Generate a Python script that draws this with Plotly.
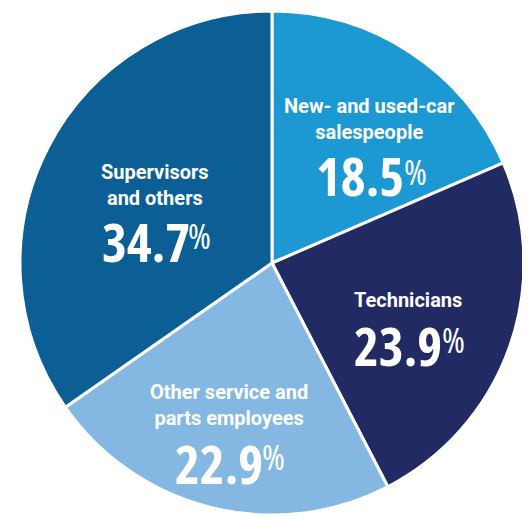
import plotly.graph_objects as go

categories = ["New- and used-car salespeople", "Technicians",
              "Other service and parts employees", "Supervisors and others"]
label_lines = ["New- and used-car<br>salespeople", "Technicians",
               "Other service and<br>parts employees", "Supervisors<br>and others"]
values = [18.5, 23.9, 22.9, 34.7]
colors = ["#1c98d3", "#222a63", "#84b8e2", "#0b5f94"]

# browser body margin offsets the plot by 8px
OFF = 8
W, H = 530 - OFF, 518 - OFF
CX, CY, R = 272 - OFF, 263 - OFF, 252

# text placement in window pixels
label_px = [(369, 119), (408, 300), (229, 405), (155, 185)]
number_px = [(406, 176), (444, 345), (265, 463), (192, 242)]   # right edge, centre
pct_px = [(402, 171), (440, 339), (260, 456), (186, 235)]      # left edge, centre

LABEL_FONT = "Roboto, sans-serif"
NUM_FONT = "Open Sans, sans-serif"
STRETCH_NUM = "font-stretch:75%"


def px_to_paper(x, y):
    return (x - OFF) / W, 1 - (y - OFF) / H


fig = go.Figure(go.Pie(
    labels=categories, values=values, sort=False, direction="clockwise",
    rotation=0, textinfo="none", hoverinfo="label+percent",
    marker=dict(colors=colors, line=dict(color="white", width=3)),
    domain=dict(x=[(CX - R) / W, (CX + R) / W],
                y=[1 - (CY + R) / H, 1 - (CY - R) / H]),
    showlegend=False,
))

ann = []
for lab, v, lp, np_, pp in zip(label_lines, values, label_px, number_px, pct_px):
    x, y = px_to_paper(*lp)
    ann.append(dict(x=x, y=y, xref="paper", yref="paper",
                    text="<b>" + lab + "</b>", showarrow=False,
                    xanchor="center", yanchor="middle",
                    font=dict(family=LABEL_FONT, size=20, color="white")))
    x, y = px_to_paper(*np_)
    ann.append(dict(x=x, y=y, xref="paper", yref="paper",
                    text='<span style="%s"><b>%.1f</b></span>' % (STRETCH_NUM, v),
                    showarrow=False, xanchor="right", yanchor="middle",
                    font=dict(family=NUM_FONT, size=53, color="white")))
    x, y = px_to_paper(*pp)
    ann.append(dict(x=x, y=y, xref="paper", yref="paper",
                    text='<span style="%s">%%</span>' % STRETCH_NUM,
                    showarrow=False, xanchor="left", yanchor="middle",
                    font=dict(family=NUM_FONT, size=35, color="white")))

fig.update_layout(width=W, height=H, margin=dict(l=0, r=0, t=0, b=0),
                  paper_bgcolor="white", plot_bgcolor="white",
                  annotations=ann)
fig.write_html("out.html")
